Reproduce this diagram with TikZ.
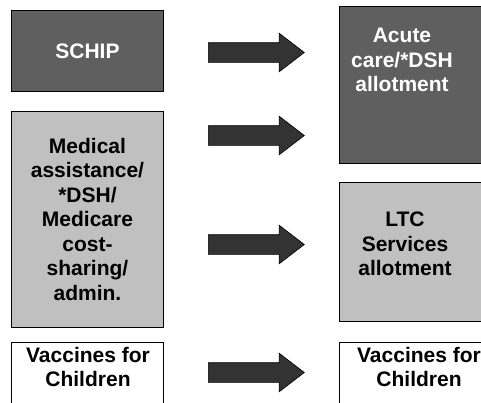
\documentclass[tikz,border=0pt]{standalone}
\usepackage{fontspec}
\setmainfont{Liberation Sans}
\usetikzlibrary{shapes.arrows,positioning}
\definecolor{darkbox}{HTML}{5F5F5F}
\definecolor{lightbox}{HTML}{C0C0C0}
\definecolor{arrowfill}{HTML}{333333}

\begin{document}
\begin{tikzpicture}[
    x=1pt, y=-1pt,
    font=\fontsize{21}{24.5}\selectfont\bfseries,
    box/.style={draw, line width=0.9pt, rectangle, anchor=north west, inner sep=0pt, align=center, minimum width=152pt},
    boxtext/.style={anchor=north, inner sep=0pt, align=center},
    bigarr/.style={single arrow, fill=arrowfill, draw=black, line width=0.6pt, inner sep=0pt, inner ysep=9.5pt,
      minimum height=96pt, single arrow head extend=9.5pt, single arrow tip angle=75, anchor=tail},
  ]
    \useasboundingbox (0,0) rectangle (481,402);
    \clip (0,0) rectangle (481,402);

    % left column
    \node[box, fill=darkbox, text=white, minimum height=81pt] (schip) at (11,10) {SCHIP};
    \node[box, fill=lightbox, minimum height=216pt] (medical) at (11,111)
      {Medical\\assistance/\\*DSH/\\Medicare\\cost-\\sharing/\\admin.};
    \node[box, fill=white, minimum height=80pt] (vfcleft) at (11,342) {};
    \node[boxtext] (vfcleftlbl) at (88,347) {Vaccines for\\Children};

    % right column
    \node[box, fill=darkbox, minimum width=161pt, minimum height=157pt] (acute) at (339,6) {};
    \node[boxtext, text=white] (acutelbl) at (402,28) {Acute\\care/*DSH\\allotment};
    \node[box, fill=lightbox, minimum width=161pt, minimum height=139pt] (ltc) at (339,182) {};
    \node[boxtext] (ltclbl) at (405,212) {LTC\\Services\\allotment};
    \node[box, fill=white, minimum width=161pt, minimum height=80pt] (vfcright) at (339,342) {};
    \node[boxtext] (vfcrightlbl) at (419,347) {Vaccines for\\Children};

    % block arrows
    \node[bigarr] (arrschip) at (208,52.5) {};
    \node[bigarr] (arrmed) at (208,135.5) {};
    \node[bigarr] (arrltc) at (208,244.5) {};
    \node[bigarr] (arrvfc) at (208,372.5) {};
  \end{tikzpicture}
\end{document}
